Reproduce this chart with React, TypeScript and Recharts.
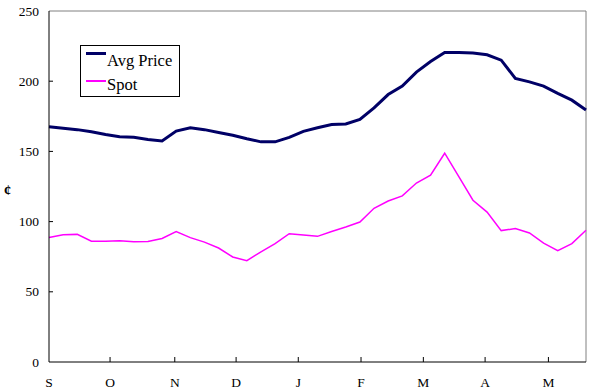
import { LineChart, Line, XAxis, YAxis, Legend, ReferenceLine } from 'recharts';

// weekly points, Sep -> mid May
const avgPrice = [
  167.5, 166.5, 165.5, 164, 162, 160.5, 160, 158.5, 157.5, 164.5,
  166.8, 165.5, 163.5, 161.5, 159, 156.8, 156.8, 160, 164.3, 166.8,
  169.2, 169.5, 172.7, 181, 190.5, 196.5, 206.5, 214, 220.5, 220.5,
  220, 218.8, 215, 202, 199.5, 196.5, 191.3, 186.5, 179.5,
];

const spot = [
  88.6, 90.7, 90.9, 86, 86, 86.3, 85.6, 85.8, 88, 92.9,
  88.6, 85.4, 81.2, 74.8, 72.2, 78.5, 84.3, 91.4, 90.5, 89.5,
  93, 96.2, 99.7, 109.5, 114.7, 118.3, 127.5, 133, 148.7, 132,
  115.2, 106.8, 93.6, 95, 91.9, 84.7, 79.3, 84.3, 93.8,
];

const monthLabels = ['S', 'O', 'N', 'D', 'J', 'F', 'M', 'A', 'M'];
const monthTicks = [0, 4.32, 8.9, 13.24, 17.64, 22.08, 26.49, 30.86, 35.34];
const yTicks = [0, 50, 100, 150, 200, 250];

const data = avgPrice.map((v, i) => ({ week: i, avg: v, spot: spot[i] }));

const FONT = 'Liberation Serif, Times New Roman, DejaVu Serif, Noto Serif, serif';

const XTick = (props: any) => {
  const { x, y, payload } = props;
  const idx = monthTicks.indexOf(payload.value);
  return (
    <g>
      {idx > 0 && <line x1={x} x2={x} y1={y} y2={y - 5} stroke="#000" />}
      <text x={x} y={y + 25} textAnchor="middle" style={{ fontFamily: FONT, fontSize: 13.5 }} fill="#000">
        {monthLabels[idx]}
      </text>
    </g>
  );
};

const YTick = (props: any) => {
  const { x, y, payload } = props;
  return (
    <g>
      {payload.value > 0 && payload.value < 250 && <line x1={x} x2={x + 4} y1={y} y2={y} stroke="#000" />}
      <text x={x - 10} y={y + 4.5} textAnchor="end" style={{ fontFamily: FONT, fontSize: 13.5 }} fill="#000">
        {payload.value}
      </text>
    </g>
  );
};

const LegendBox = () => (
  <div
    style={{
      border: '1px solid #000',
      width: 100,
      height: 52,
      background: '#fff',
      fontFamily: FONT,
      fontSize: 16.5,
      boxSizing: 'border-box',
      position: 'relative',
      color: '#000',
    }}
  >
    <div style={{ position: 'absolute', left: 5, top: 6, width: 20, height: 3, background: '#000066' }} />
    <div style={{ position: 'absolute', left: 26, top: 5, lineHeight: '20px' }}>Avg Price</div>
    <div style={{ position: 'absolute', left: 5, top: 34, width: 20, height: 1.5, background: '#ff00ff' }} />
    <div style={{ position: 'absolute', left: 26, top: 29, lineHeight: '20px' }}>Spot</div>
  </div>
);

export default function App() {
  return (
    <div style={{ position: 'absolute', left: 0, top: 0, background: '#fff' }}>
      <LineChart width={590} height={392} data={data} margin={{ top: 11, right: 4, left: 0, bottom: 0 }}>
        <XAxis
          dataKey="week"
          type="number"
          domain={[0, 38]}
          ticks={monthTicks}
          interval={0}
          tick={XTick}
          tickLine={false}
          tickSize={0}
          tickMargin={0}
          height={30}
          axisLine={{ stroke: '#000' }}
        />
        <YAxis
          domain={[0, 250]}
          ticks={yTicks}
          interval={0}
          tick={YTick}
          tickLine={false}
          tickSize={0}
          tickMargin={0}
          width={49}
          axisLine={{ stroke: '#000' }}
          label={{ value: '¢', position: 'insideLeft', offset: 4, style: { fontFamily: FONT, fontSize: 14, fontWeight: 'bold' }, fill: '#000', dy: 4 }}
        />
        <ReferenceLine y={250} stroke="#808080" />
        <ReferenceLine x={38} stroke="#808080" />
        <Line
          dataKey="avg"
          name="Avg Price"
          stroke="#000066"
          strokeWidth={3}
          dot={false}
          isAnimationActive={false}
          type="linear"
        />
        <Line
          dataKey="spot"
          name="Spot"
          stroke="#ff00ff"
          strokeWidth={1.5}
          dot={false}
          isAnimationActive={false}
          type="linear"
        />
        <Legend
          layout="horizontal"
          verticalAlign="middle"
          align="center"
          content={LegendBox}
          wrapperStyle={{ position: 'absolute', left: 80, top: 45, width: 100, height: 52 }}
        />
      </LineChart>
    </div>
  );
}
